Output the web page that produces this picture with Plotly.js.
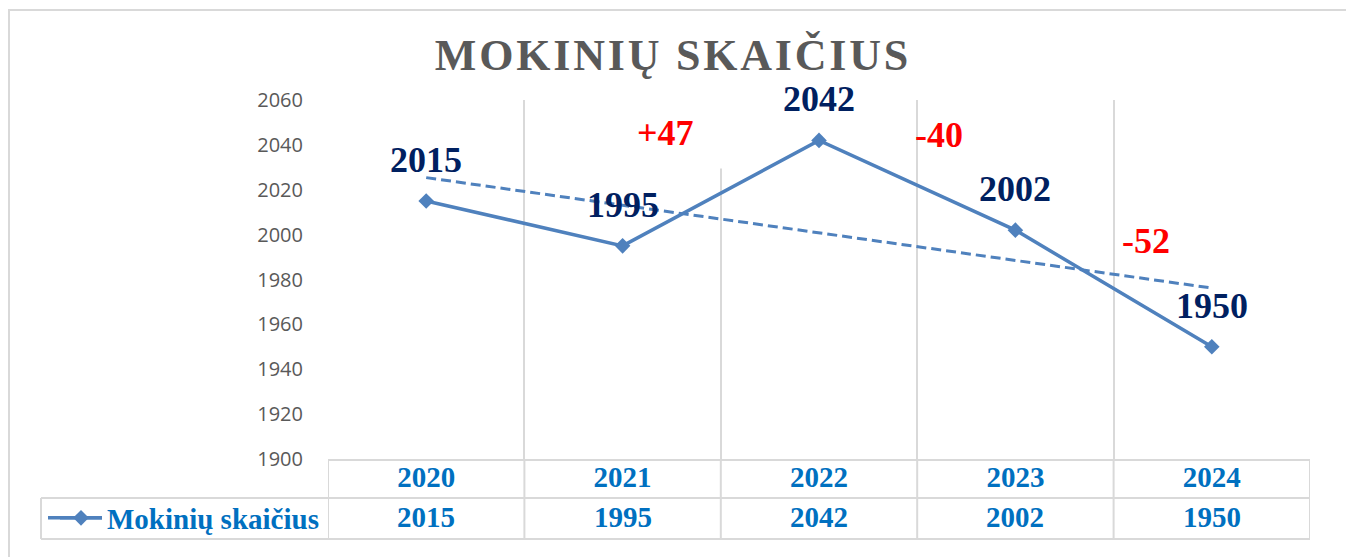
<!DOCTYPE html>
<html>
<head>
<meta charset="utf-8">
<script src="https://cdn.plot.ly/plotly-3.0.1.min.js"></script>
<style>
  html, body { margin: 0; padding: 0; background: #ffffff; }
  #chart { width: 1346px; height: 557px; }
  .gtitle { letter-spacing: 2.8px; }
</style>
</head>
<body>
<div id="chart"></div>
<script>
// ---- data ----
const categories = ['2020', '2021', '2022', '2023', '2024'];
const students = [2015, 1995, 2042, 2002, 1950];
const seriesName = 'Mokinių skaičius';
const trendCategories = ['2020', '2024'];
const trendValues = [2025.4, 1976.2];
const changeLabels = ['+47', '-40', '-52'];
const yTickValues = [1900, 1920, 1940, 1960, 1980, 2000, 2020, 2040, 2060];
const chartTitle = 'MOKINIŲ SKAIČIUS';

// ---- style / layout helpers ----
const SERIF = 'Liberation Serif, Times New Roman, serif';
const GRID = '#D9D9D9';
const LINE_BLUE = '#4F81BD';
const TABLE_BLUE = '#0070C0';
const NAVY = '#002060';

const plotTop = 100, plotBottom = 459, plotLeft = 328, plotRight = 1310;
const plotH = plotBottom - plotTop, plotW = plotRight - plotLeft;
const py = p => (plotBottom - p) / plotH;   // pixel y -> paper y
const px = p => (p - plotLeft) / plotW;     // pixel x -> paper x

// positions of the change labels (category index, value units)
const changePositions = [
  { x: 1.216, y: 2045.3 },
  { x: 2.611, y: 2044.6 },
  { x: 3.665, y: 1997.2 }
];

const traces = [
  {
    type: 'scatter', mode: 'lines',
    x: trendCategories, y: trendValues,
    line: { color: LINE_BLUE, width: 3, dash: '10px,5px' },
    showlegend: false, hoverinfo: 'skip'
  },
  {
    type: 'scatter', mode: 'lines+markers',
    name: seriesName,
    x: categories, y: students,
    line: { color: LINE_BLUE, width: 3.5 },
    marker: { symbol: 'diamond', size: 12, color: LINE_BLUE },
    showlegend: true
  }
];

const annotations = [];
// data labels above points
categories.forEach((c, i) => {
  annotations.push({
    x: i, y: students[i], xref: 'x', yref: 'y',
    text: String(students[i]), showarrow: false, yshift: 41,
    font: { family: SERIF, size: 36, color: NAVY, weight: 'bold' }
  });
});
// red change labels
changeLabels.forEach((t, i) => {
  annotations.push({
    x: changePositions[i].x, y: changePositions[i].y, xref: 'x', yref: 'y',
    text: t, showarrow: false,
    font: { family: SERIF, size: 36, color: '#FF0000', weight: 'bold' }
  });
});
// data table: values row
categories.forEach((c, i) => {
  annotations.push({
    x: i, y: py(517), xref: 'x', yref: 'paper', yanchor: 'middle',
    text: String(students[i]), showarrow: false,
    font: { family: SERIF, size: 29, color: TABLE_BLUE, weight: 'bold' }
  });
});

const shapes = [];
const lineStyle = { color: GRID, width: 2 };
// cover for the gridline under "+47" text box
shapes.push({
  type: 'rect', layer: 'between', xref: 'x', yref: 'y',
  x0: 1.45, x1: 1.55, y0: 2029.5, y1: 2061,
  fillcolor: '#ffffff', line: { width: 0 }
});
// table vertical lines at category boundaries
for (let i = 0; i <= categories.length; i++) {
  shapes.push({
    type: 'line', xref: 'x', yref: 'paper',
    x0: i - 0.5, x1: i - 0.5, y0: 0, y1: py(539), line: lineStyle
  });
}
// legend cell left line
shapes.push({ type: 'line', xref: 'paper', yref: 'paper',
  x0: px(41), x1: px(41), y0: py(498), y1: py(539), line: lineStyle });
// table horizontal lines
shapes.push({ type: 'line', xref: 'paper', yref: 'paper',
  x0: px(41), x1: 1, y0: py(498), y1: py(498), line: lineStyle });
shapes.push({ type: 'line', xref: 'paper', yref: 'paper',
  x0: px(41), x1: 1, y0: py(539), y1: py(539), line: lineStyle });
// outer chart border
shapes.push({ type: 'rect', xref: 'paper', yref: 'paper',
  x0: px(9), x1: px(1352), y0: py(10), y1: py(562),
  line: lineStyle, fillcolor: 'rgba(0,0,0,0)' });

const layout = {
  width: 1346, height: 557,
  margin: { l: plotLeft, r: 1346 - plotRight, t: plotTop, b: 557 - plotBottom, pad: 0 },
  paper_bgcolor: '#ffffff', plot_bgcolor: '#ffffff',
  title: {
    text: chartTitle, xref: 'container', x: 0.5, xanchor: 'center',
    yref: 'container', y: 1 - 55 / 557, yanchor: 'middle',
    font: { family: SERIF, size: 44, color: '#595959', weight: 'bold' }
  },
  xaxis: {
    type: 'category', categoryorder: 'array', categoryarray: categories,
    range: [-0.5, 4.5], fixedrange: true,
    showgrid: true, gridcolor: GRID, gridwidth: 2, tickson: 'boundaries',
    showline: true, linecolor: GRID, linewidth: 2,
    ticks: '', ticklabelstandoff: -9,
    tickfont: { family: SERIF, size: 29, color: TABLE_BLUE, weight: 'bold' },
    zeroline: false
  },
  yaxis: {
    range: [1900, 2060], fixedrange: true,
    tickvals: yTickValues, ticktext: yTickValues.map(String),
    showgrid: false, zeroline: false, showline: false,
    ticks: 'outside', ticklen: 20, tickcolor: 'rgba(0,0,0,0)',
    tickfont: { family: 'Open Sans, sans-serif', size: 20, color: '#595959' }
  },
  showlegend: true,
  legend: {
    x: px(55), xanchor: 'left', y: py(518), yanchor: 'middle',
    itemwidth: 42,
    bgcolor: 'rgba(0,0,0,0)', borderwidth: 0,
    font: { family: SERIF, size: 29, color: TABLE_BLUE, weight: 'bold' }
  },
  annotations: annotations,
  shapes: shapes,
  hovermode: false
};

Plotly.newPlot('chart', traces, layout, { displayModeBar: false, staticPlot: true }).then(gd => {
  // extend the legend key line to the Excel-style longer key, aligned with the real legend line
  const path = gd.querySelector('.legend .legendlines path');
  if (!path) return;
  const box = gd.getBoundingClientRect();
  const r = path.getBoundingClientRect();
  const yc = r.top + r.height / 2 - box.top;
  const newShapes = gd.layout.shapes.concat([{
    type: 'line', xref: 'paper', yref: 'paper',
    x0: px(48), x1: px(102), y0: py(yc), y1: py(yc),
    line: { color: LINE_BLUE, width: 3.5 }
  }]);
  return Plotly.relayout(gd, { shapes: newShapes });
});
</script>
</body>
</html>
